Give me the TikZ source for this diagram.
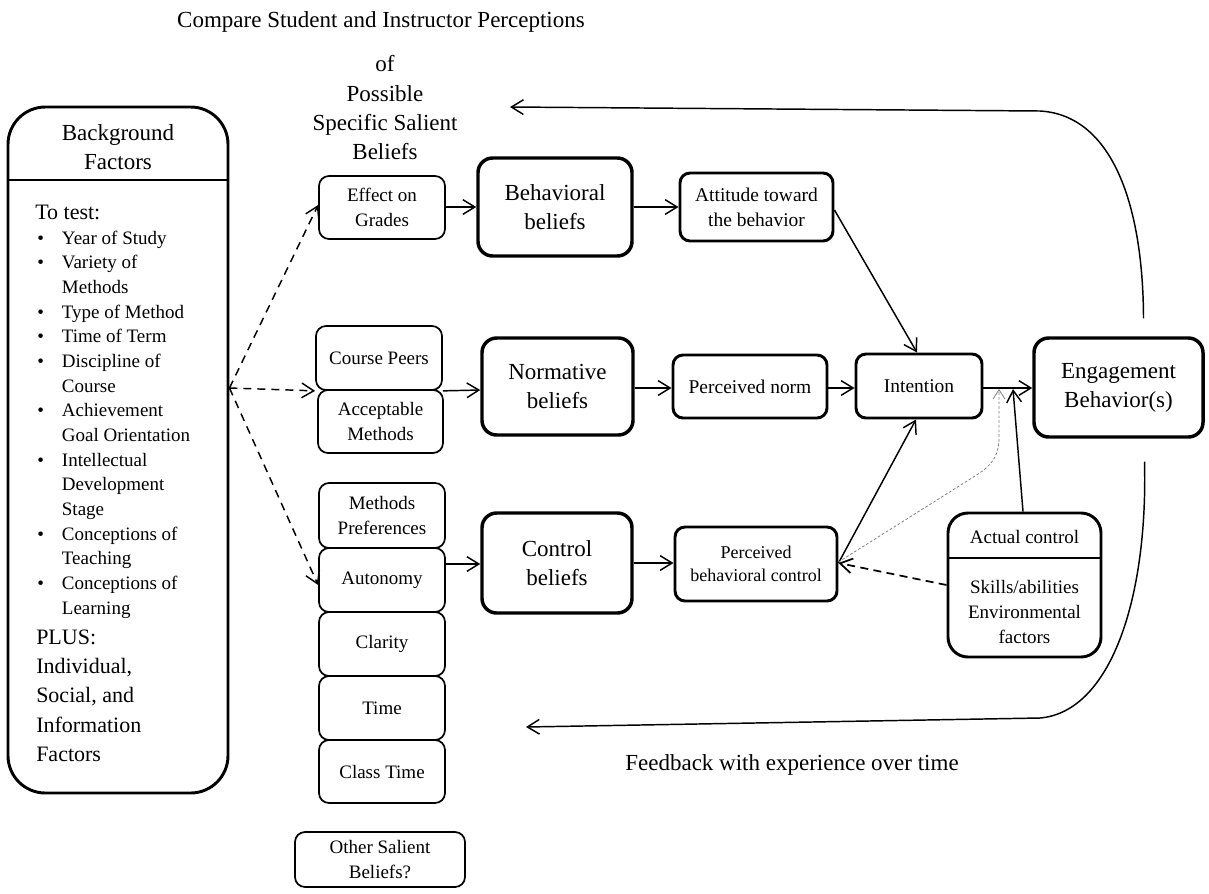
\documentclass[tikz,border=0pt]{standalone}
\usepackage{fontspec}
\setmainfont{Liberation Serif}
\usetikzlibrary{arrows.meta,calc}
\newcommand\setfs[2]{\fontsize{#1}{#2}\selectfont}

\begin{document}
\begin{tikzpicture}[x=0.75pt,y=-0.75pt,
  % a box given by its corners x1/y1/x2/y2 in picture units
  rect/.style args={#1/#2/#3/#4}{at={({(#1+#3)/2},{(#2+#4)/2})},
    minimum width={(#3-#1)*0.75pt}, minimum height={(#4-#2)*0.75pt}},
  thinbox/.style={draw, line width=1.3pt, rounded corners=7.5pt, inner sep=0pt,
    align=center, font=\setfs{14.25}{18.5}},
  midbox/.style={draw, line width=2.2pt, rounded corners=7.5pt, inner sep=0pt,
    align=center, font=\setfs{14.6}{18.75}},
  bigbox/.style={draw, line width=2.6pt, rounded corners=11pt, inner sep=0pt,
    align=center, font=\setfs{17.25}{21.75}},
  tip/.style={-{Straight Barb[length=9pt,width=11pt]}},
  arr/.style={line width=1.1pt, tip},
  darr/.style={arr, dash pattern=on 6pt off 4.5pt},
  lbl/.style={inner sep=0pt, align=center, font=\setfs{17.25}{22}}
]
\useasboundingbox (0,0) rectangle (1209,893);

% headings
\node[lbl] (ttl) at (381,22) {Compare Student and Instructor Perceptions};
\node[lbl] (sub) at (385,108) {of\\Possible\\Specific Salient\\Beliefs};
\node[lbl] (fb) at (792,765) {Feedback with experience over time};

% background factors panel
\node[draw, line width=2.2pt, rounded corners=28pt, inner sep=0pt,
      rect=8/107/228/793] (bg) {};
\draw[line width=1.5pt] (bg.west |- 0,180) -- (bg.east |- 0,180);
\node[lbl, font=\setfs{17.25}{21.75}] (bgt) at (118,147.5) {Background\\Factors};
\node[anchor=base west, inner sep=0pt, font=\setfs{16.5}{22}] (bgtest) at (35,219) {To test:};
\node[anchor=base west, inner sep=0pt, font=\setfs{14.25}{18.5}] (bglist) at (37,244)
  {\begin{tabular}[t]{@{}l@{}}
   \makebox[18.5pt][l]{•}Year of Study\\
   \makebox[18.5pt][l]{•}Variety of\\
   \hspace*{18.5pt}Methods\\
   \makebox[18.5pt][l]{•}Type of Method\\
   \makebox[18.5pt][l]{•}Time of Term\\
   \makebox[18.5pt][l]{•}Discipline of\\
   \hspace*{18.5pt}Course\\
   \makebox[18.5pt][l]{•}Achievement\\
   \hspace*{18.5pt}Goal Orientation\\
   \makebox[18.5pt][l]{•}Intellectual\\
   \hspace*{18.5pt}Development\\
   \hspace*{18.5pt}Stage\\
   \makebox[18.5pt][l]{•}Conceptions of\\
   \hspace*{18.5pt}Teaching\\
   \makebox[18.5pt][l]{•}Conceptions of\\
   \hspace*{18.5pt}Learning
   \end{tabular}};
\node[anchor=base west, inner sep=0pt, font=\setfs{16.5}{22.1}] (bgplus) at (36,644)
  {\begin{tabular}[t]{@{}l@{}}
   PLUS:\\ Individual,\\ Social, and\\ Information\\ Factors
   \end{tabular}};

% salient beliefs column
\node[thinbox, rect=319/176/445/239] (eff) {Effect on\\Grades};
\node[thinbox, rect=316/326/442/390] (peer) {Course Peers};
\node[thinbox, rect=318/390/443/453] (acc) {Acceptable\\Methods};
\node[thinbox, rect=319/483/445/548] (mp) {Methods\\Preferences};
\node[thinbox, rect=319/548/445/612] (aut) {Autonomy};
\node[thinbox, rect=319/612/445/676] (cla) {Clarity};
\node[thinbox, rect=319/676/445/740] (tim) {Time};
\node[thinbox, rect=319/740/445/803] (ct) {Class Time};
\node[thinbox, rect=295/832/465/887] (oth) {Other Salient\\Beliefs?};

% belief groups
\node[bigbox, rect=478/158/632/256] (beh) {Behavioral\\beliefs};
\node[bigbox, rect=482/338/633/435] (norm) {Normative\\beliefs};
\node[bigbox, rect=482/513/632/613] (ctl) {Control\\beliefs};

% attitude, norm, control, intention, behaviour
\node[midbox, rect=680/173/833/241] (att) {Attitude toward\\the behavior};
\node[midbox, rect=673/355/827/418] (pn) {Perceived norm};
\node[midbox, font=\setfs{13.5}{17.25}, rect=675/527/837/601] (pbc) {Perceived\\behavioral control};
\node[midbox, rect=856/354/982/418] (int) {Intention};
\node[bigbox, rect=1034/338/1203/437] (eng) {Engagement\\Behavior(s)};

% actual control
\node[midbox, rounded corners=15pt, rect=948/513/1101/657] (act) {};
\draw[line width=1.8pt] (act.west |- 0,558) -- (act.east |- 0,558);
\node[inner sep=0pt, font=\setfs{14.25}{18.75}] (actl) at (1024.5,537) {Actual control};
\node[inner sep=0pt, align=center, font=\setfs{14.25}{18.75}] (acts) at (1024.5,612)
  {Skills/abilities\\Environmental\\factors};

% background factors to salient beliefs
\coordinate (src) at (bg.east |- 0,388);
\draw[darr] (src) -- (eff.west |- 0,205);
\draw[darr] (src) -- (peer.south west);
\draw[darr] (src) -- (aut.west |- 0,585);

% main chain
\draw[arr] (eff.east |- 0,207) -- (beh.west |- 0,207);
\draw[arr] (beh.east |- 0,207) -- (att.west |- 0,207);
\draw[arr] (peer.south east) -- (norm.west |- 0,390);
\draw[arr] (norm.east |- 0,388) -- (pn.west |- 0,388);
\draw[arr] (aut.east |- 0,564) -- (ctl.west |- 0,564);
\draw[arr] (ctl.east |- 0,563) -- (pbc.west |- 0,563);
\draw[arr] (att.east |- 0,210) -- (int.north -| 917,0);
\draw[arr] (pn.east |- 0,388) -- (int.west |- 0,388);
\draw[arr] (pbc.east |- 0,563) -- (int.south -| 916,0);
\draw[arr] (int.east |- 0,388) -- (eng.west |- 0,388);

% control links onto the intention-behaviour path
\coordinate (mdot) at (999,389);
\coordinate (mact) at (1013,389);
\draw[gray, line width=0.6pt, dash pattern=on 2pt off 1.5pt,
      -{Straight Barb[length=7pt,width=9pt]}]
  (pbc.east |- 0,562) -- (975,476) .. controls (996,463) and (999,452) .. (999,436) -- (mdot);
\draw[arr] (act.north -| 1023,0) -- (mact);
\draw[arr, line width=1.3pt, dash pattern=on 6pt off 4pt] (act.west |- 0,585) -- (pbc.east |- 0,563);

% feedback loops
\coordinate (fbtop) at ($(eng.north)+(25,-18)$);
\coordinate (fbtopend) at (510,107);
\coordinate (fbbot) at ($(eng.south)+(26,23)$);
\coordinate (fbbotend) at (526,727);
\draw[arr] (fbtop) .. controls (1143,200) and (1110,115) .. (1040,111) -- (fbtopend);
\draw[arr] (fbbot) .. controls (1148,600) and (1110,712) .. (1040,718) -- (fbbotend);
\end{tikzpicture}
\end{document}
